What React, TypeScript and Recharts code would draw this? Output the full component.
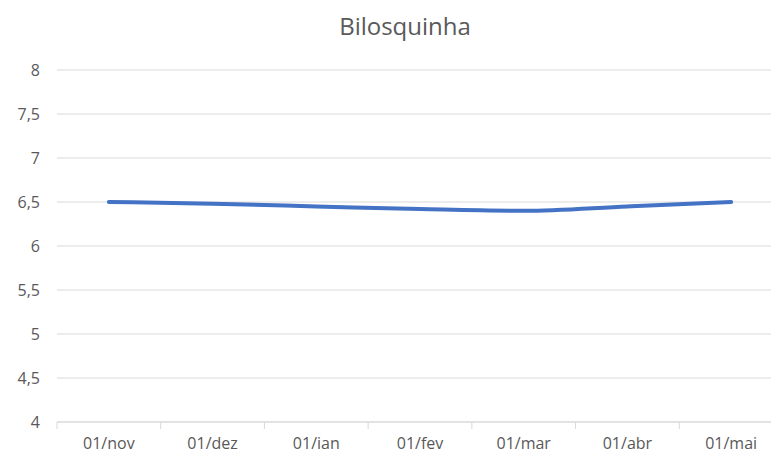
import React from "react";
import { LineChart, Line, XAxis, YAxis, CartesianGrid } from "recharts";

const categories = ["01/nov", "01/dez", "01/ian", "01/fev", "01/mar", "01/abr", "01/mai"];
const values = [6.5, 6.48, 6.45, 6.42, 6.4, 6.45, 6.5];
const yTicks = [4, 4.5, 5, 5.5, 6, 6.5, 7, 7.5, 8];
const bandTicks = [0, 1, 2, 3, 4, 5, 6, 7];

const data = categories.map((c, i) => ({ cat: c, idx: i + 0.5, v: values[i] }));

const FONT = "'Open Sans', 'Noto Sans', sans-serif";

const EmptyTick = () => <g />;

export default function App() {
  return (
    <div style={{ position: "absolute", left: 0, top: 0, width: 771, height: 454, overflow: "hidden", background: "#fff" }}>
      <div
        style={{
          position: "absolute",
          left: 0,
          top: 8,
          width: 810,
          textAlign: "center",
          fontFamily: FONT,
          fontSize: 24,
          color: "#595959",
          lineHeight: "36px",
        }}
      >
        Bilosquinha
      </div>
      <LineChart width={796} height={454} data={data} margin={{ top: 70, right: 13, bottom: 0, left: 0 }}>
        <CartesianGrid vertical={false} stroke="#d9d9d9" strokeWidth={1} />
        <XAxis
          xAxisId="bounds"
          type="number"
          dataKey="idx"
          domain={[0, 7]}
          ticks={bandTicks}
          tick={EmptyTick}
          height={1}
          tickSize={7}
          stroke="#d9d9d9"
          axisLine={{ stroke: "#d9d9d9" }}
          tickLine={{ stroke: "#d9d9d9" }}
          allowDataOverflow
        />
        <XAxis
          xAxisId="cat"
          dataKey="cat"
          scale="band"
          axisLine={false}
          tickLine={false}
          height={31}
          tickMargin={9}
          interval={0}
          tick={{ fill: "#595959", fontSize: 16, fontFamily: FONT }}
        />
        <YAxis
          domain={[4, 8]}
          ticks={yTicks}
          width={57}
          axisLine={false}
          tickLine={false}
          tickMargin={11}
          tickFormatter={(v: number) => String(v).replace(".", ",")}
          tick={{ fill: "#595959", fontSize: 16, fontFamily: FONT }}
          allowDataOverflow
        />
        <Line
          xAxisId="cat"
          type="monotone"
          dataKey="v"
          stroke="#4472C4"
          strokeWidth={4}
          strokeLinecap="round"
          dot={false}
          activeDot={false}
          isAnimationActive={false}
        />
      </LineChart>
    </div>
  );
}
